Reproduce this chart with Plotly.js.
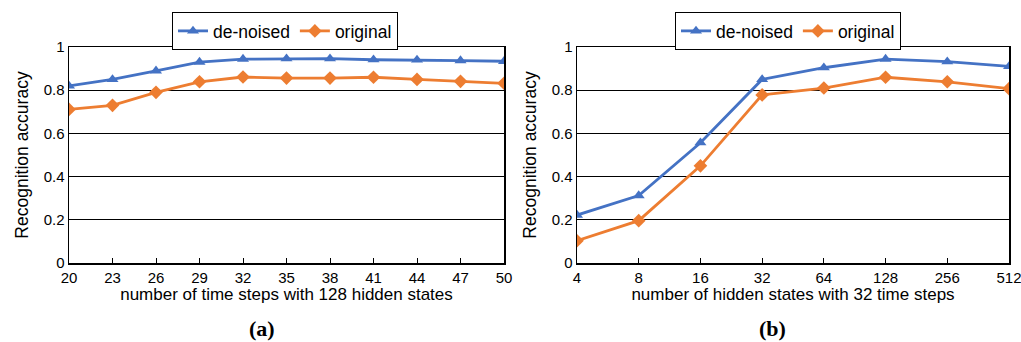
<!DOCTYPE html>
<html>
<head>
<meta charset="utf-8">
<script src="https://cdn.plot.ly/plotly-3.0.1.min.js"></script>
<style>html,body{margin:0;padding:0;background:#fff;}#chart{width:1021px;height:342px;}</style>
</head>
<body>
<div id="chart"></div>
<script>
// Panel (a): number of time steps (128 hidden states)
const timeSteps = [20, 23, 26, 29, 32, 35, 38, 41, 44, 47, 50];
const denoisedA = [0.82, 0.85, 0.89, 0.93, 0.944, 0.946, 0.946, 0.941, 0.94, 0.937, 0.934];
const originalA = [0.711, 0.73, 0.79, 0.839, 0.861, 0.856, 0.856, 0.86, 0.85, 0.841, 0.832];

// Panel (b): number of hidden states (32 time steps)
const hiddenStates = ['4', '8', '16', '32', '64', '128', '256', '512'];
const denoisedB = [0.222, 0.312, 0.557, 0.85, 0.904, 0.944, 0.932, 0.91];
const originalB = [0.103, 0.196, 0.45, 0.778, 0.81, 0.86, 0.839, 0.807];

const seriesNames = ['de-noised', 'original'];
const blue = '#4472C4', orange = '#ED7D31';
const FONT = '"Liberation Sans"';

function tr(x, y, name, color, sym, xa, ya, leg) {
  return {
    x: x, y: y, name: name, type: 'scatter', mode: 'lines+markers',
    xaxis: xa, yaxis: ya, legend: leg, showlegend: true,
    line: {color: color, width: 2.8},
    marker: {color: color, symbol: sym, size: 10.5}
  };
}

const traces = [
  tr(timeSteps, denoisedA, seriesNames[0], blue, 'triangle-up', 'x', 'y', 'legend'),
  tr(timeSteps, originalA, seriesNames[1], orange, 'diamond', 'x', 'y', 'legend'),
  tr(hiddenStates, denoisedB, seriesNames[0], blue, 'triangle-up', 'x2', 'y2', 'legend2'),
  tr(hiddenStates, originalB, seriesNames[1], orange, 'diamond', 'x2', 'y2', 'legend2')
];

const yTop = 1 - 47/342, yBot = 1 - 263/342;

function yax(anchor) {
  return {
    domain: [yBot, yTop], anchor: anchor, range: [0, 1],
    tickvals: [0, 0.2, 0.4, 0.6, 0.8, 1], ticktext: ['0', '0.2', '0.4', '0.6', '0.8', '1'],
    showgrid: true, gridcolor: '#000', gridwidth: 1,
    showline: true, linecolor: '#000', linewidth: 1.5, mirror: true,
    ticks: '', zeroline: false,
    tickfont: {family: FONT, size: 15, color: '#000'},
    title: {text: 'Recognition accuracy', font: {family: FONT, size: 17.5, color: '#000'}, standoff: 10},
    automargin: false
  };
}

const legBase = {
  orientation: 'h', yanchor: 'top', y: 1 - 12/342, xanchor: 'center',
  bordercolor: '#000', borderwidth: 1, bgcolor: '#fff',
  font: {family: FONT, size: 17.5, color: '#000'}, itemwidth: 30
};

const layout = {
  width: 1021, height: 342,
  margin: {l: 0, r: 0, t: 0, b: 0},
  paper_bgcolor: '#fff', plot_bgcolor: '#fff',
  font: {family: FONT},
  xaxis: {
    domain: [69/1021, 504/1021], anchor: 'y', range: [20, 50], dtick: 3, tick0: 20,
    showgrid: false, zeroline: false,
    showline: true, linecolor: '#000', linewidth: 1.5, mirror: true,
    ticks: 'inside', ticklen: 5, tickcolor: '#000',
    tickfont: {family: FONT, size: 15, color: '#000'},
    title: {text: 'number of time steps with 128 hidden states', font: {family: FONT, size: 17, color: '#000'}, standoff: 1},
    automargin: false
  },
  xaxis2: {
    domain: [577/1021, 1009/1021], anchor: 'y2', type: 'category', range: [0, 7],
    showgrid: false, zeroline: false,
    showline: true, linecolor: '#000', linewidth: 1.5, mirror: true,
    ticks: 'inside', ticklen: 5, tickcolor: '#000',
    tickfont: {family: FONT, size: 15, color: '#000'},
    title: {text: 'number of hidden states with 32 time steps', font: {family: FONT, size: 17, color: '#000'}, standoff: 1},
    automargin: false
  },
  yaxis: yax('x'),
  yaxis2: yax('x2'),
  legend: Object.assign({}, legBase, {x: 285/1021}),
  legend2: Object.assign({}, legBase, {x: 788/1021}),
  annotations: [
    {text: '<b>(a)</b>', xref: 'paper', yref: 'paper', x: 262/1021, y: 1 - 328/342, showarrow: false,
     xanchor: 'center', yanchor: 'middle', font: {family: '"Liberation Serif"', size: 22, color: '#000'}},
    {text: '<b>(b)</b>', xref: 'paper', yref: 'paper', x: 772/1021, y: 1 - 328/342, showarrow: false,
     xanchor: 'center', yanchor: 'middle', font: {family: '"Liberation Serif"', size: 22, color: '#000'}}
  ]
};

Plotly.newPlot('chart', traces, layout, {displayModeBar: false, staticPlot: true});
</script>
</body>
</html>
